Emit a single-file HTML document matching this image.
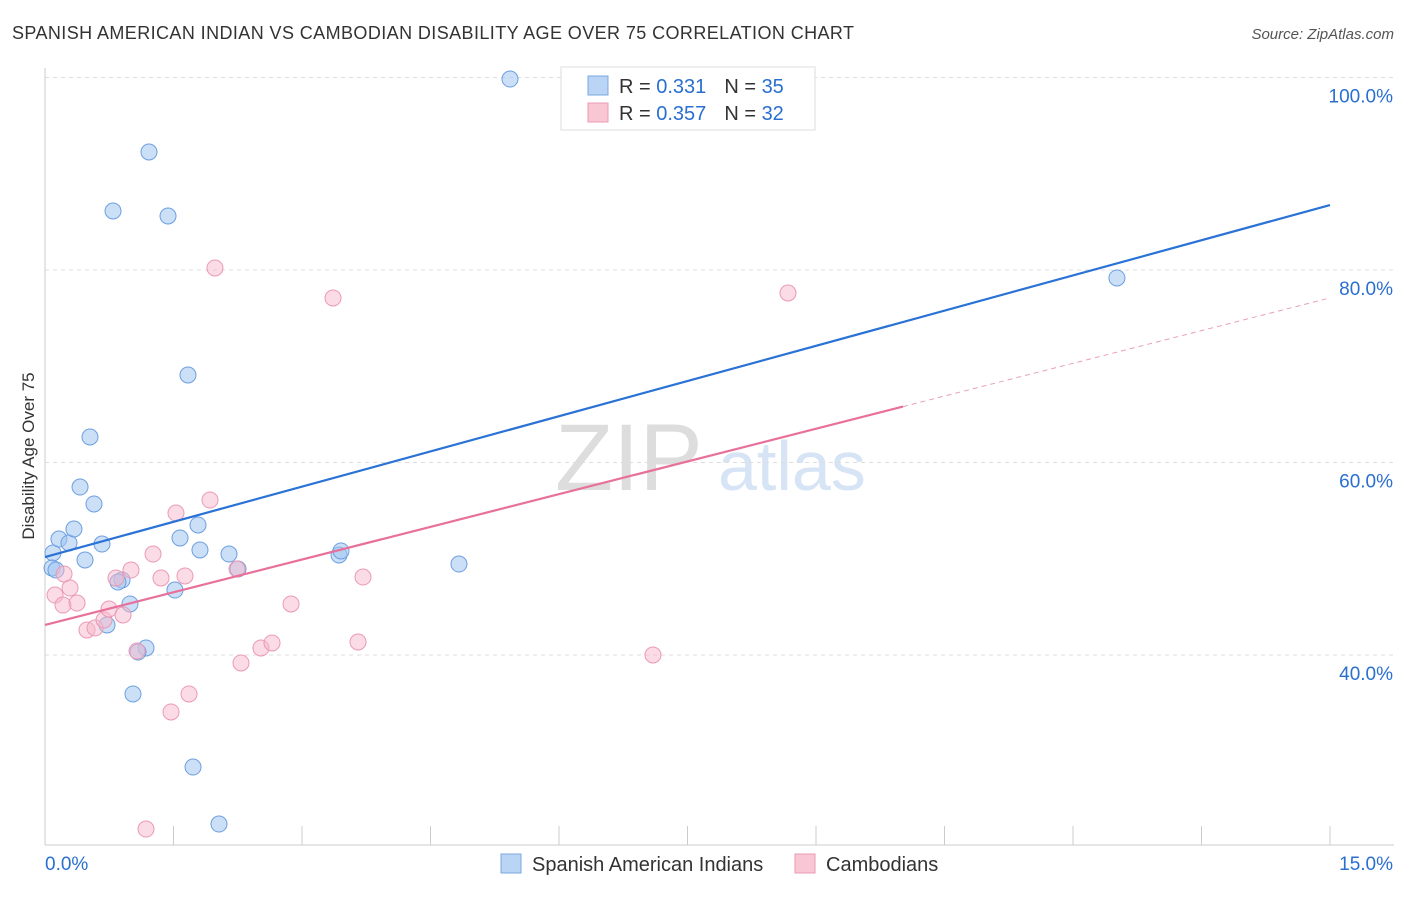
<!DOCTYPE html>
<html><head><meta charset="utf-8"><style>
body{margin:0;background:#fff;font-family:"Liberation Sans",sans-serif}
svg text{font-family:"Liberation Sans",sans-serif}
</style></head><body>
<svg id="c" width="1406" height="892" xmlns="http://www.w3.org/2000/svg">
<text x="12" y="39" font-size="18" fill="#333" textLength="842">SPANISH AMERICAN INDIAN VS CAMBODIAN DISABILITY AGE OVER 75 CORRELATION CHART</text>
<text x="1394" y="39" font-size="15" fill="#555" font-style="italic" text-anchor="end">Source: ZipAtlas.com</text>
<text x="34" y="456" font-size="17" fill="#333" text-anchor="middle" transform="rotate(-90 34 456)">Disability Age Over 75</text>
<text x="555" y="490" font-size="95" fill="#ddd" font-family="Liberation Serif">ZIP</text>
<text x="718" y="490" font-size="70" fill="#d6e4f5">atlas</text>
<g id="grid"></g><g id="pts"></g><g id="lines"></g>
<g>
<rect x="561" y="67" width="254" height="63" fill="#fff" stroke="#ddd"/>
<rect x="588" y="76" width="20" height="19" fill="#b9d4f4" stroke="#7aa8e0"/>
<rect x="588" y="103" width="20" height="19" fill="#f9c6d4" stroke="#eb9ab4"/>
<text x="619" y="93" font-size="20" fill="#333">R = <tspan fill="#2a6fd0"> 0.331</tspan><tspan dx="18">N = </tspan><tspan fill="#2a6fd0">35</tspan></text>
<text x="619" y="120" font-size="20" fill="#333">R = <tspan fill="#2a6fd0">0.357</tspan><tspan dx="18">N = </tspan><tspan fill="#2a6fd0">32</tspan></text>
</g>
<g>
<rect x="501" y="854" width="20" height="19" fill="#b9d4f4" stroke="#7aa8e0"/>
<text x="532" y="871" font-size="20" fill="#333">Spanish American Indians</text>
<rect x="795" y="854" width="20" height="19" fill="#f9c6d4" stroke="#eb9ab4"/>
<text x="826" y="871" font-size="20" fill="#333">Cambodians</text>
</g>
</svg>
<script>
const blueX=[0.093,0.082,0.163,0.28,0.338,0.128,0.467,0.409,0.525,0.572,0.665,0.794,1.214,1.436,1.669,1.786,1.576,1.809,0.899,0.852,0.992,0.724,1.179,1.086,1.027,1.517,2.148,2.253,1.728,2.031,3.432,3.455,4.832,5.428,12.513];
const blueY=[50.6,49.04,52.05,51.64,53.09,48.83,49.87,57.45,62.65,55.69,51.53,86.13,92.26,85.61,69.09,53.51,52.16,50.91,47.79,47.58,45.3,43.12,40.73,40.31,35.95,46.75,50.49,48.94,28.36,22.44,50.39,50.81,49.45,99.84,79.17];
const pinkX=[0.117,0.21,0.292,0.374,0.222,0.49,0.584,0.689,0.747,0.829,0.911,1.004,1.074,1.261,1.354,1.529,1.634,1.471,1.681,1.179,1.926,1.984,2.241,2.288,2.521,2.65,2.872,3.362,3.712,3.654,7.097,8.673];
const pinkY=[46.23,45.19,46.96,45.4,48.42,42.6,42.81,43.64,44.78,48.0,44.16,48.83,40.42,50.49,48.0,54.75,48.21,34.08,35.95,21.92,56.1,80.21,48.94,39.17,40.73,41.25,45.3,77.09,48.1,41.35,40.0,77.61];
const blueLine=[50.18,86.75];
const pinkLine=[43.12,77.1];
const pinkSolidEnd=10.015;
const yTicks=[40,60,80,100];
const xTicks=[0,1.5,3,4.5,6,7.5,9,10.5,12,13.5,15];
const NS='http://www.w3.org/2000/svg';
const sx=v=>45+v*85.667, sy=v=>655-(v-40)*9.625;
function mk(t,a,p){const e=document.createElementNS(NS,t);for(const k in a)e.setAttribute(k,a[k]);p.appendChild(e);return e;}
const g=document.getElementById('grid');
let ax=mk('line',{x1:45,y1:68,x2:45,y2:845,stroke:'#ccc'},g);


let bx=mk('line',{x1:45,y1:845,x2:1394,y2:845,stroke:'#ccc'},g);


yTicks.forEach(v=>{
 const l=mk('line',{x1:45,y1:sy(v),x2:1394,y2:sy(v),stroke:'#ddd','stroke-dasharray':'4,4'},g);
 
 
 const t=mk('text',{x:1393,y:sy(v)+25,'font-size':19,fill:'#2a6fd0','text-anchor':'end'},g);t.textContent=v.toFixed(1)+'%';
 
 
});
xTicks.forEach(v=>{
 const l=mk('line',{x1:sx(v),y1:826,x2:sx(v),y2:845,stroke:'#ccc'},g);
 
 
});
[[0,'0.0%','start',45],[15,'15.0%','end',1393]].forEach(a=>{
 const t=mk('text',{x:a[3],y:870,'font-size':19,fill:'#2a6fd0','text-anchor':a[2]},g);t.textContent=a[1];
 
 
});
const p=document.getElementById('pts');
blueX.forEach((x,i)=>{
 const c=mk('circle',{cx:sx(x),cy:sy(blueY[i]),r:8,fill:'rgba(160,196,240,0.55)',stroke:'#6d9fe0','stroke-width':1},p);
 
 
});
pinkX.forEach((x,i)=>{
 const c=mk('circle',{cx:sx(x),cy:sy(pinkY[i]),r:8,fill:'rgba(248,184,204,0.5)',stroke:'#eb9ab4','stroke-width':1},p);
 
 
});
const L=document.getElementById('lines');
let b=mk('line',{x1:sx(0),y1:sy(blueLine[0]),x2:sx(15),y2:sy(blueLine[1]),stroke:'#2a72d5','stroke-width':2.2},L);


const pAt=x=>pinkLine[0]+(pinkLine[1]-pinkLine[0])*x/15;
let pk=mk('line',{x1:sx(0),y1:sy(pinkLine[0]),x2:sx(pinkSolidEnd),y2:sy(pAt(pinkSolidEnd)),stroke:'#e8709a','stroke-width':2.2},L);


let pd=mk('line',{x1:sx(pinkSolidEnd),y1:sy(pAt(pinkSolidEnd)),x2:sx(15),y2:sy(pinkLine[1]),stroke:'#e8a0b8','stroke-width':1,'stroke-dasharray':'5,4'},L);


</script>
</body></html>
